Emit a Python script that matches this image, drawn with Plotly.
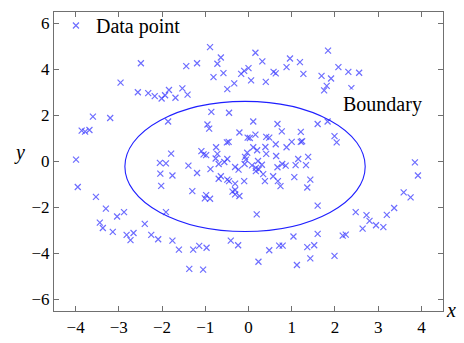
import plotly.graph_objects as go

# Data points
x_vals = [
    -2.49, -2.96, -2.56, -2.32, -3.60, -3.20, -3.86, -3.78, -3.68, -3.99,
    -0.89, -0.64, -1.44, -1.19, -0.72, -0.58, -0.81, -0.17, -0.10, -0.33,
    -0.49, -2.17, -2.01, -1.93, -1.84, -1.69, -1.53, -1.41, 0.06, 0.16,
    0.32, 0.00, 0.40, 0.58, 0.63, 0.88, 0.96, 1.19, 1.27, 1.84,
    1.69, 1.91, 1.81, 1.75, 2.08, 2.31, 2.56, 2.38, 3.55, 3.72,
    3.85, 3.92, 3.59, 3.75, 3.37, 3.20, 2.48, 2.73, 2.80, 2.95,
    3.12, 2.64, 1.60, 0.19, 1.04, 1.60, 2.18, 2.25, 0.48, 0.71,
    0.79, 1.36, 1.52, 1.43, 1.99, 0.23, 1.12,
    -3.95, -3.53, -3.30, -3.04, -2.88, -3.44, -3.37, -3.14, -2.82, -2.66,
    -2.73, -2.40, -2.25, -2.09, -1.76, -1.61, -1.28, -1.14, -0.97, -0.41,
    -0.24, -1.37, -1.05,
    -1.91, -1.86, -0.86, -0.45, -0.95, -0.91, -0.21, -0.02, 0.03, -0.50,
    -0.46, -0.75, -1.79, -1.09, -1.04, -0.98, -0.72, -0.76, -0.49, -0.56,
    -0.08, -0.03, -0.06, -2.05, -1.91, 0.11, 0.67, 0.77, 1.21, 1.60,
    1.83, 0.16, 0.41, 0.48, 0.63, 1.00, 0.88, 1.21, 1.24, 0.39,
    1.99, 2.04, 0.11, 0.20, 0.41, 0.64, 1.15, 1.38, 0.22, -1.39,
    -0.88, -0.69, -0.31, -0.23, -0.09, -2.04, -1.76, -1.19, -0.69, -0.64,
    -0.49, -0.45, -0.31, -0.10, -2.02, -1.30, -0.98, -1.01, -0.89, -0.37,
    -0.31, -0.31, -0.21, 0.17, 0.24, 0.31, 0.34, 0.08, 0.17, 0.38,
    0.67, 0.78, 0.86, 1.09, 1.33, 0.57, 0.68, 0.74, 1.06, 1.43,
    1.36,
]
y_vals = [
    4.27, 3.43, 3.01, 2.97, 1.95, 1.89, 1.34, 1.30, 1.37, 0.08,
    4.97, 4.52, 4.15, 4.27, 4.25, 3.84, 3.67, 3.81, 3.94, 3.40,
    3.15, 2.84, 2.74, 2.88, 3.11, 2.77, 3.18, 2.91, 3.53, 4.73,
    4.35, 4.06, 3.46, 3.90, 3.83, 4.10, 4.48, 4.32, 3.81, 4.82,
    3.72, 3.61, 3.29, 3.09, 4.10, 3.90, 3.86, 3.19, 2.05, 2.05,
    -0.04, -0.61, -1.34, -1.56, -2.02, -2.32, -2.20, -2.33, -2.58, -2.77,
    -2.85, -2.92, -1.92, -2.30, -3.26, -3.15, -3.22, -3.18, -3.86, -3.66,
    -3.66, -3.72, -3.64, -4.21, -4.10, -4.36, -4.50,
    -1.11, -1.54, -2.05, -2.39, -2.20, -2.66, -2.89, -3.06, -3.19, -3.11,
    -3.42, -2.71, -3.19, -3.38, -3.44, -3.83, -3.83, -3.67, -3.75, -3.44,
    -3.64, -4.67, -4.70,
    -2.20, 1.74, 2.16, 2.12, 1.61, 1.43, 1.26, 1.04, 1.02, 0.83,
    0.85, 0.62, 0.34, 0.45, 0.31, 0.28, 0.33, 0.13, 0.11, -0.02,
    0.20, 0.38, 0.08, -0.06, -0.08, 1.74, 1.63, 1.31, 1.29, 1.63,
    1.74, 1.17, 1.07, 1.04, 0.75, 0.85, 0.62, 0.85, 0.88, 0.63,
    1.10, 0.83, 0.62, 0.49, 0.33, 0.24, 0.11, 0.20, 0.02, -0.18,
    -0.33, -0.11, -0.24, -0.35, -0.11, -0.53, -0.61, -0.50, -0.75, -0.64,
    -0.79, -0.85, -0.96, -0.85, -1.06, -1.29, -1.46, -1.60, -1.62, -1.31,
    -1.24, -1.43, -1.50, -0.42, -0.34, -0.14, -0.55, -0.17, -0.28, -0.85,
    -0.25, -0.11, -0.18, -0.16, -0.16, -0.64, -0.85, -1.07, -0.68, -0.79,
    -1.13,
]

# Boundary ellipse (centre and semi-axes)
ell_cx, ell_cy = -0.08, -0.215
ell_a, ell_b = 2.78, 2.83

x_ticks = [-4, -3, -2, -1, 0, 1, 2, 3, 4]
y_ticks = [-6, -4, -2, 0, 2, 4, 6]

FONT = "Liberation Serif"

fig = go.Figure()
fig.add_trace(go.Scatter(
    x=x_vals, y=y_vals, mode="markers", name="Data point",
    marker=dict(symbol="x-thin", size=6,
                line=dict(color="rgba(60,60,255,0.75)", width=1.2)),
))

fig.add_shape(type="circle", xref="x", yref="y",
              x0=ell_cx - ell_a, x1=ell_cx + ell_a,
              y0=ell_cy - ell_b, y1=ell_cy + ell_b,
              line=dict(color="#1f1fff", width=1.1), layer="above")

fig.add_annotation(x=3.11, y=2.5, xref="x", yref="y", text="Boundary",
                   showarrow=False, bgcolor="white", borderpad=3,
                   font=dict(family=FONT, size=20, color="black"))
fig.add_annotation(x=-0.108, y=0.53, xref="paper", yref="paper", text="<i>y</i>",
                   showarrow=False, font=dict(family=FONT, size=20, color="black"))
fig.add_annotation(x=1.039, y=-0.04, xref="paper", yref="paper", text="<i>x</i>",
                   showarrow=False, font=dict(family=FONT, size=20, color="black"))

axis_common = dict(
    showgrid=False, zeroline=False, showline=True, linecolor="#707070",
    linewidth=1.2, mirror="ticks", ticks="inside", ticklen=5,
    tickcolor="#707070",
)
fig.update_xaxes(range=[-4.5, 4.5], tickvals=x_ticks,
                 tickfont=dict(family=FONT, size=17, color="black"), **axis_common)
fig.update_yaxes(range=[-6.5, 6.5], tickvals=y_ticks,
                 tickfont=dict(family=FONT, size=17, color="black"), **axis_common)

fig.update_layout(
    width=464, height=343,
    font=dict(family=FONT, size=17, color="black"),
    margin=dict(l=54, r=21, t=6, b=30),
    plot_bgcolor="white", paper_bgcolor="white",
    showlegend=True,
    legend=dict(x=0.005, y=1.02, xanchor="left", yanchor="top",
                bgcolor="rgba(255,255,255,0)",
                font=dict(family=FONT, size=20, color="black"),
                itemwidth=30, tracegroupgap=0),
)

fig.write_html("out.html", config={"displayModeBar": False},
               post_script="document.body.style.margin='0';")
